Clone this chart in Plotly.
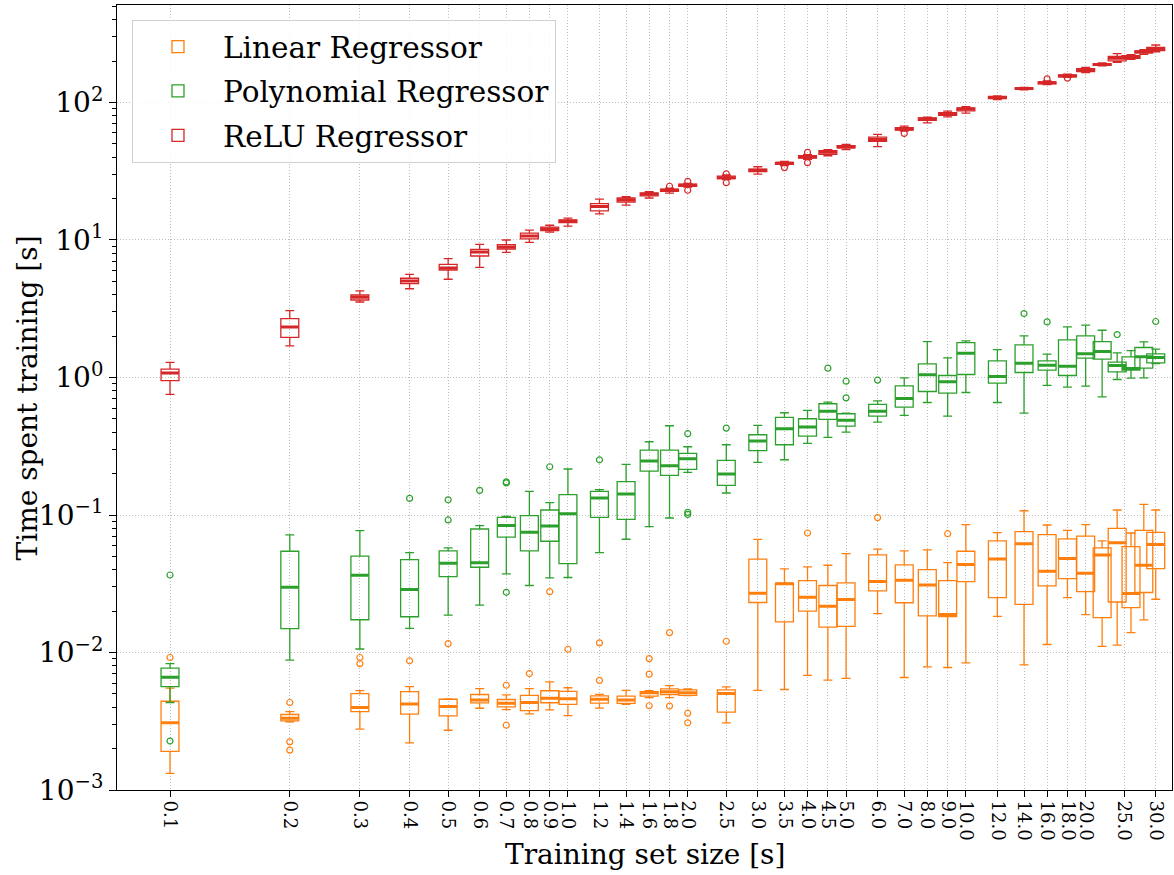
import numpy as np
import plotly.graph_objects as go

# ---------------- data ----------------
sizes = [0.1, 0.2, 0.3, 0.4, 0.5, 0.6, 0.7, 0.8, 0.9, 1.0, 1.2, 1.4, 1.6, 1.8, 2.0,
         2.5, 3.0, 3.5, 4.0, 4.5, 5.0, 6.0, 7.0, 8.0, 9.0, 10.0, 12.0, 14.0, 16.0,
         18.0, 20.0, 22.0, 24.0, 26.0, 28.0, 30.0]

tick_sizes = [0.1, 0.2, 0.3, 0.4, 0.5, 0.6, 0.7, 0.8, 0.9, 1.0, 1.2, 1.4, 1.6, 1.8,
              2.0, 2.5, 3.0, 3.5, 4.0, 4.5, 5.0, 6.0, 7.0, 8.0, 9.0, 10.0, 12.0,
              14.0, 16.0, 18.0, 20.0, 25.0, 30.0]
tick_labels = [f"{v:.1f}" for v in tick_sizes]

y_tick_vals = [1e-3, 1e-2, 1e-1, 1e0, 1e1, 1e2]
y_tick_text = ["10<sup>−3</sup>", "10<sup>−2</sup>", "10<sup>−1</sup>",
               "10<sup>0</sup>", "10<sup>1</sup>", "10<sup>2</sup>"]

# Linear Regressor
lin_low = [0.00132, 0.00313, 0.00277, 0.00220, 0.00272, 0.00393, 0.00384, 0.00358, 0.00383, 0.00347,
           0.00394, 0.00420, 0.00469, 0.00469, 0.00485, 0.00308, 0.00530, 0.00538, 0.00681, 0.00630,
           0.00648, 0.0192, 0.00658, 0.00787, 0.00778, 0.00841, 0.0183, 0.00813, 0.01143, 0.0251,
           0.01888, 0.01107, 0.0113, 0.01396, 0.01725, 0.0244]
lin_q1 = [0.00191, 0.00318, 0.00372, 0.00356, 0.00346, 0.00430, 0.00402, 0.00378, 0.00431, 0.00419,
          0.00428, 0.00426, 0.00482, 0.00495, 0.00487, 0.00369, 0.0231, 0.0167, 0.0200, 0.0153,
          0.0155, 0.0281, 0.0230, 0.01845, 0.01827, 0.0328, 0.0251, 0.0224, 0.0305, 0.0345,
          0.0277, 0.01795, 0.0233, 0.0212, 0.0273, 0.0407]
lin_med = [0.00308, 0.00333, 0.00398, 0.00423, 0.00404, 0.00452, 0.00428, 0.00433, 0.00464, 0.00461,
           0.00458, 0.00451, 0.00509, 0.00518, 0.00509, 0.00504, 0.0270, 0.0316, 0.0252, 0.0217,
           0.0243, 0.0328, 0.0335, 0.0310, 0.01888, 0.0436, 0.0479, 0.0619, 0.0390, 0.0482,
           0.0377, 0.0512, 0.0627, 0.0269, 0.0431, 0.0609]
lin_q3 = [0.00442, 0.00354, 0.00502, 0.00520, 0.00457, 0.00495, 0.00455, 0.00487, 0.00527, 0.00521,
          0.00484, 0.00482, 0.00520, 0.00544, 0.00535, 0.00535, 0.0477, 0.0319, 0.0333, 0.0307,
          0.0321, 0.0512, 0.0434, 0.0401, 0.0333, 0.0545, 0.0648, 0.0757, 0.0720, 0.0670,
          0.0703, 0.0576, 0.0800, 0.0589, 0.0774, 0.0748]
lin_high = [0.0055, 0.00372, 0.00528, 0.00565, 0.00460, 0.00547, 0.00492, 0.00547, 0.00612, 0.00554,
            0.00496, 0.00530, 0.00527, 0.00575, 0.00544, 0.00563, 0.0665, 0.0406, 0.0419, 0.0431,
            0.0524, 0.0564, 0.0548, 0.0557, 0.0451, 0.0851, 0.0744, 0.1074, 0.0846, 0.0774,
            0.0851, 0.0648, 0.1087, 0.0740, 0.1194, 0.1087]
lin_out_x = [0.1, 0.2, 0.2, 0.2, 0.3, 0.3, 0.4, 0.5, 0.7, 0.7, 0.8, 0.9, 1.0, 1.2, 1.2,
             1.6, 1.6, 1.6, 1.8, 1.8, 2.0, 2.0, 2.5, 4.0, 6.0, 9.0]
lin_out_y = [0.0092, 0.00433, 0.00224, 0.00195, 0.0092, 0.0083, 0.0087, 0.0116, 0.00578, 0.00296,
             0.00703, 0.0277, 0.01056, 0.01175, 0.00627, 0.00903, 0.00696, 0.00410, 0.01396, 0.00408,
             0.00362, 0.00308, 0.01207, 0.0740, 0.0957, 0.0731]

# Polynomial Regressor
poly_low = [0.00433, 0.0088, 0.0106, 0.0150, 0.0187, 0.0221, 0.0373, 0.0307, 0.0349, 0.0351,
            0.0532, 0.0666, 0.0822, 0.0951, 0.204, 0.1445, 0.2415, 0.2523, 0.332, 0.367,
            0.401, 0.474, 0.530, 0.658, 0.524, 0.778, 0.658, 0.551, 0.875, 0.851,
            0.865, 0.724, 0.967, 0.989, 0.994, 1.264]
poly_q1 = [0.00565, 0.0149, 0.0173, 0.0182, 0.0356, 0.0417, 0.0690, 0.0548, 0.0644, 0.0443,
           0.0962, 0.0930, 0.2087, 0.1942, 0.2146, 0.1642, 0.2934, 0.3243, 0.375, 0.496,
           0.443, 0.524, 0.609, 0.791, 0.769, 1.051, 0.910, 1.087, 1.130, 1.034,
           1.381, 1.359, 1.099, 1.130, 1.169, 1.278]
poly_med = [0.00662, 0.0298, 0.0365, 0.0287, 0.0446, 0.0450, 0.0837, 0.0748, 0.0832, 0.1023,
            0.133, 0.142, 0.2467, 0.2282, 0.2566, 0.1986, 0.345, 0.4237, 0.436, 0.569,
            0.488, 0.569, 0.704, 1.046, 0.930, 1.502, 1.017, 1.271, 1.229, 1.208,
            1.486, 1.545, 1.222, 1.162, 1.413, 1.397]
poly_q3 = [0.00769, 0.0545, 0.0503, 0.0474, 0.0548, 0.0791, 0.0962, 0.0989, 0.1087, 0.1406,
           0.1486, 0.1746, 0.2965, 0.2965, 0.2805, 0.2495, 0.3835, 0.512, 0.501, 0.644,
           0.545, 0.637, 0.869, 1.257, 1.034, 1.795, 1.321, 1.727, 1.321, 1.878,
           2.008, 1.826, 1.292, 1.413, 1.652, 1.486]
poly_high = [0.00830, 0.0716, 0.0769, 0.0532, 0.0576, 0.0837, 0.0975, 0.1486, 0.123, 0.216,
             0.153, 0.2335, 0.341, 0.4457, 0.3135, 0.3243, 0.448, 0.554, 0.576, 0.662,
             0.551, 0.677, 0.994, 1.826, 1.39, 1.846, 1.597, 2.008, 1.477, 2.333,
             2.40, 2.206, 1.51, 1.57, 1.815, 1.606]
poly_out_x = [0.1, 0.1, 0.4, 0.5, 0.5, 0.6, 0.7, 0.7, 0.7, 0.9, 1.2, 2.0, 2.0, 2.0, 2.5,
              4.5, 5.0, 5.0, 6.0, 14.0, 16.0, 24.0, 30.0]
poly_out_y = [0.0366, 0.00227, 0.132, 0.129, 0.092, 0.151, 0.174, 0.171, 0.0274, 0.2244, 0.252,
              0.390, 0.1045, 0.101, 0.4285, 1.169, 0.940, 0.711, 0.957, 2.917, 2.537, 2.052, 2.553]

# ReLU Regressor
relu_low = [0.755, 1.70, 3.54, 4.42, 5.18, 6.33, 8.13, 9.62, 11.4, 12.6,
            15.5, 17.9, 20.2, 21.9, 24.2, 27.5, 30.1, 34.8, 38.6, 41.0,
            45.4, 47.7, 61.9, 71.1, 78.7, 83.7, 105.1, 123.7, 135.1, 152.3,
            165.3, 184.5, 196.2, 206.2, 224.2, 233.2]
relu_q1 = [0.948, 1.96, 3.66, 4.81, 6.05, 7.65, 8.60, 10.2, 11.7, 13.4,
           16.3, 18.9, 20.9, 22.6, 24.6, 27.9, 31.4, 35.5, 39.4, 42.0,
           46.7, 52.2, 63.0, 74.0, 80.5, 87.0, 106.9, 125.0, 136.6, 153.5,
           167.9, 186.6, 200.6, 209.7, 229.2, 238.5]
relu_med = [1.08, 2.33, 3.83, 5.03, 6.26, 8.18, 8.90, 10.7, 12.0, 13.7,
            17.5, 19.6, 21.5, 23.0, 25.0, 28.4, 32.1, 36.1, 40.1, 43.4,
            47.4, 53.9, 64.1, 75.7, 82.7, 89.5, 108.7, 126.4, 139.0, 156.1,
            172.6, 188.7, 209.7, 214.3, 233.3, 243.6]
relu_q3 = [1.15, 2.68, 3.98, 5.27, 6.65, 8.56, 9.24, 11.2, 12.4, 14.0,
           18.4, 20.2, 22.0, 23.4, 25.5, 29.1, 32.8, 36.7, 41.0, 44.6,
           48.5, 56.0, 65.5, 77.4, 84.5, 91.5, 110.6, 127.7, 141.2, 158.8,
           176.4, 191.9, 216.6, 219.2, 237.3, 251.8]
relu_high = [1.29, 3.06, 4.26, 5.63, 7.31, 9.30, 10.0, 11.8, 12.8, 14.4,
             19.8, 20.7, 22.5, 23.8, 25.8, 29.7, 34.1, 37.3, 41.7, 45.4,
             49.5, 58.6, 67.3, 78.3, 86.5, 93.1, 111.7, 129.0, 143.6, 160.6,
             180.3, 194.1, 226.6, 222.8, 242.7, 261.8]
relu_out_x = [1.8, 2.0, 2.0, 2.5, 2.5, 3.5, 4.0, 4.0, 7.0, 16.0, 18.0]
relu_out_y = [24.6, 26.7, 23.0, 30.3, 26.1, 33.6, 43.4, 36.5, 59.6, 148.5, 150.3]

series = [
    ("Linear Regressor", "#ff7f0e", lin_low, lin_q1, lin_med, lin_q3, lin_high, lin_out_x, lin_out_y),
    ("Polynomial Regressor", "#2ca02c", poly_low, poly_q1, poly_med, poly_q3, poly_high, poly_out_x, poly_out_y),
    ("ReLU Regressor", "#d62728", relu_low, relu_q1, relu_med, relu_q3, relu_high, relu_out_x, relu_out_y),
]

# ---------------- figure ----------------
FONT = "DejaVu Serif"
BOX_W = 0.045  # box width in log10 units of the x axis
xpos = np.log10(sizes)

fig = go.Figure()
for name, color, low, q1, med, q3, high, ox, oy in series:
    fig.add_trace(go.Box(
        x=xpos, q1=q1, median=med, q3=q3, lowerfence=low, upperfence=high,
        name=name, legendgroup=name, width=BOX_W, whiskerwidth=0.5,
        line=dict(color=color, width=1.3), fillcolor="rgba(0,0,0,0)",
        boxpoints=False, hoverinfo="skip",
    ))
    # thicker median bar
    fig.add_trace(go.Box(
        x=xpos, q1=med, median=med, q3=med, lowerfence=med, upperfence=med,
        name=name, legendgroup=name, showlegend=False, width=BOX_W, whiskerwidth=0,
        line=dict(color=color, width=3), fillcolor="rgba(0,0,0,0)",
        boxpoints=False, hoverinfo="skip",
    ))
    fig.add_trace(go.Scatter(
        x=np.log10(ox), y=oy, mode="markers", legendgroup=name, showlegend=False,
        marker=dict(symbol="circle-open", size=6, color=color, line=dict(width=1.2)),
        hoverinfo="skip",
    ))

axis_common = dict(showline=True, mirror=True, linecolor="black", linewidth=1,
                   ticks="outside", tickcolor="black", tickwidth=1, zeroline=False,
                   showgrid=True, gridcolor="#bdbdbd", griddash="1px,2px", gridwidth=1)

fig.update_xaxes(
    range=[-1.1332, 1.518], tickmode="array",
    tickvals=np.log10(tick_sizes), ticktext=tick_labels, tickangle=90,
    ticklen=6, tickfont=dict(family=FONT, size=18, color="black"),
    **axis_common,
)

minor_vals = [m * 10.0 ** e for e in range(-3, 3) for m in range(2, 10)]
fig.update_yaxes(
    type="log", range=[-3, 2.709], tickmode="array",
    tickvals=y_tick_vals, ticktext=y_tick_text, ticklen=7,
    tickfont=dict(family=FONT, size=28, color="black"),
    minor=dict(tickmode="array", tickvals=minor_vals, ticks="outside", ticklen=4,
               tickcolor="black", tickwidth=1, showgrid=False),
    **axis_common,
)

fig.update_layout(
    width=1174, height=875,
    margin=dict(l=117, r=2, t=5, b=85),
    plot_bgcolor="white", paper_bgcolor="white",
    font=dict(family=FONT, color="black"),
    boxmode="overlay",
    legend=dict(x=0.0142, y=0.981, xanchor="left", yanchor="top",
                font=dict(family=FONT, size=29.5, color="black"),
                bgcolor="rgba(255,255,255,0.85)", bordercolor="#d0d0d0", borderwidth=1,
                tracegroupgap=3, itemwidth=80),
    annotations=[
        dict(text="Training set size [s]", xref="paper", yref="paper", x=0.5, y=-0.0828,
             xanchor="center", yanchor="middle", showarrow=False,
             font=dict(family=FONT, size=28, color="black")),
        dict(text="Time spent training [s]", xref="paper", yref="paper", x=-0.0844, y=0.5,
             xanchor="center", yanchor="middle", textangle=-90, showarrow=False,
             font=dict(family=FONT, size=28, color="black")),
    ],
)

fig.write_html("out.html")
